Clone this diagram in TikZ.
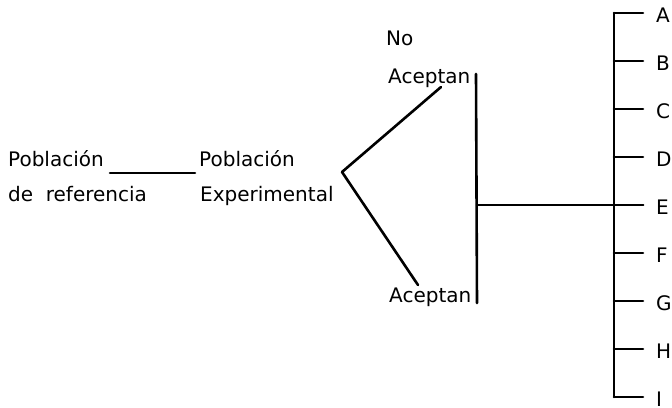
\documentclass[tikz,border=0pt]{standalone}
\usepackage{fontspec}
\setmainfont{DejaVu Sans}
\begin{document}
\begin{tikzpicture}[x=1pt,y=-1pt,
  lbl/.style={inner sep=0pt,anchor=base west,font=\fontsize{20}{24}\selectfont},
  ln/.style={line width=2.6pt,line cap=round}]
\useasboundingbox (0,0) rectangle (672,407);
% texts
\node[lbl] (pr1) at (8,166) {Población};
\node[lbl] (pr2) at (8,201) {de\ \ referencia};
\node[lbl] (pe1) at (199,166) {Población};
\node[lbl] (pe2) at (200,201) {Experimental};
\node[lbl] (no) at (386,45) {No};
\node[lbl] (nacep) at (388,83) {Aceptan};
\node[lbl] (acep) at (389,302) {Aceptan};
% coordinates
\coordinate (u1) at (110,173);
\coordinate (u2) at (195,173);
\coordinate (v) at (342,172);
\coordinate (vu) at (441,87);
\coordinate (vd) at (418,285);
\coordinate (mt) at (476,74);
\coordinate (mb) at (477,303);
\coordinate (me) at (477,205);
\coordinate (rt) at (614,13);
\coordinate (rb) at (614,397);
\draw[ln] (u1) -- (u2);
\draw[ln,line join=round] (vu) -- (v) -- (vd);
\draw[ln] (mt) -- (mb);
\draw[ln] (rt) -- (rb);
\foreach \L [count=\i from 0] in {A,B,C,D,E,F,G,H,I}{
  \coordinate (t\L) at (614,13+48*\i);
  \coordinate (e\L) at (643,13+48*\i);
  \draw[ln] (t\L) -- (e\L);
  \node[lbl] (l\L) at (656,22+48*\i) {\L};
}
\draw[ln] (me) -- (eE);
\end{tikzpicture}
\end{document}
